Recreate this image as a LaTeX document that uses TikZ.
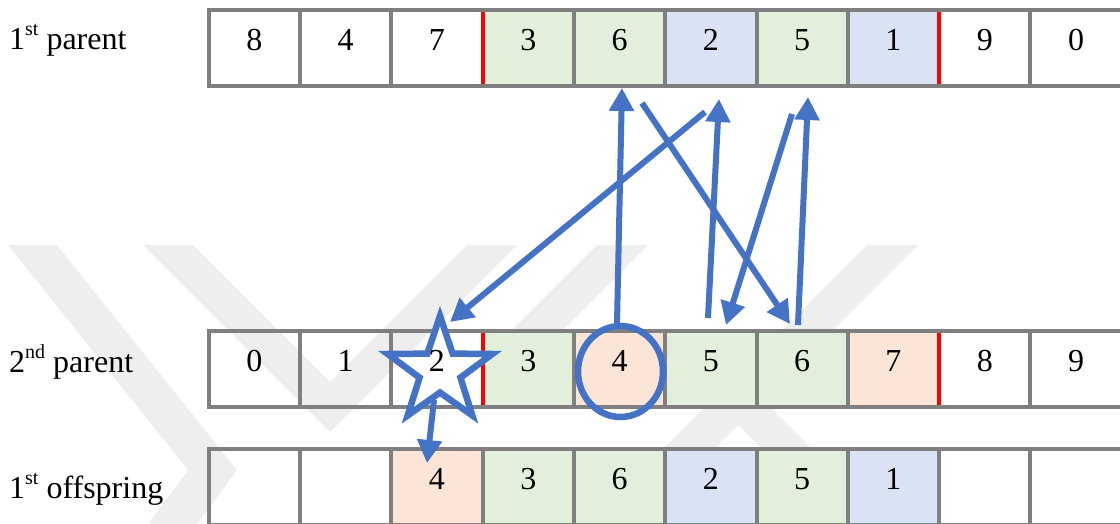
\documentclass[tikz,border=0pt]{standalone}
\usepackage{fontspec}
\setmainfont{Liberation Serif}
\usetikzlibrary{arrows.meta,calc,shapes.geometric}
\definecolor{cgreen}{HTML}{E2EFDA}
\definecolor{cblue}{HTML}{DAE3F3}
\definecolor{cpeach}{HTML}{FBE5D6}
\definecolor{cgrid}{HTML}{7F7F7F}
\definecolor{cline}{HTML}{4472C4}
\definecolor{cwm}{HTML}{EEEEEE}
\newcommand\supx[1]{\raisebox{14pt}{\fontsize{20}{20}\selectfont #1}}
\begin{document}
\begin{tikzpicture}[x=1pt,y=-1pt,
  cell/.style={draw=cgrid, line width=4pt, minimum width=91.3pt, minimum height=76pt,
    inner sep=0pt, outer sep=0pt, anchor=north west,
    font=\fontsize{32}{32}\selectfont, text height=21pt, text depth=16pt},
  lab/.style={anchor=base west, inner sep=0pt, font=\fontsize{32}{32}\selectfont},
  sepline/.style={draw=red, line width=4pt},
  arr/.style={draw=cline, line width=6pt, -{Triangle[width=24pt,length=23pt]}},
  ring/.style={draw=cline, line width=6.5pt, ellipse, inner sep=0pt, outer sep=0pt},
  wm/.style={fill=cwm}
]
\useasboundingbox (0,0) rectangle (1120,524);
% watermark
\fill[wm] (8,245) -- (57,245) -- (237,470) -- (197,524) -- (148,524) -- (188,470) -- cycle;
\fill[wm] (143,245) -- (193,245) -- (330,382) -- (467,245) -- (517,245) -- (330,432) -- cycle;
\fill[wm] (597,245) -- (648,245) -- (562,331) -- (511,331) -- cycle;
\fill[wm] (867,245) -- (918,245) -- (763,400) -- (887,524) -- (837,524) -- (738,425) -- (639,524) -- (588,524) -- cycle;
% labels
\node[lab] (l1) at (9,50) {1\supx{st} parent};
\node[lab] (l2) at (9,372) {2\supx{nd} parent};
\node[lab] (l3) at (9,498) {1\supx{st} offspring};
% rows
\foreach \v/\f [count=\i from 0] in {8/none,4/none,7/none,3/cgreen,6/cgreen,2/cblue,5/cgreen,1/cblue,9/none,0/none}
  \node[cell, fill=\f] (r1c\i) at ({208.7+91.3*\i},10) {\v};
\foreach \v/\f [count=\i from 0] in {0/none,1/none,\null/none,3/cgreen,4/cpeach,5/cgreen,6/cgreen,7/cpeach,8/none,9/none}
  \node[cell, fill=\f] (r2c\i) at ({208.7+91.3*\i},331) {\v};
\foreach \v/\f [count=\i from 0] in {\null/none,\null/none,4/cpeach,3/cgreen,6/cgreen,2/cblue,5/cgreen,1/cblue,\null/none,\null/none}
  \node[cell, fill=\f] (r3c\i) at ({208.7+91.3*\i},449) {\v};
% red separators
\draw[sepline] ($(r1c3.north west)+(0,2)$) -- ($(r1c3.south west)+(0,-2)$);
\draw[sepline] ($(r1c8.north west)+(0,2)$) -- ($(r1c8.south west)+(0,-2)$);
\draw[sepline] ($(r2c3.north west)+(0,2)$) -- ($(r2c3.south west)+(0,-2)$);
\draw[sepline] ($(r2c8.north west)+(0,2)$) -- ($(r2c8.south west)+(0,-2)$);
% circle
\node[ring, minimum width=85pt, minimum height=91pt] (circ) at (620.5,371.5) {};
% arrow end points
\coordinate (a1s) at (617,323); \coordinate (a1e) at (622,88);
\coordinate (a2s) at (642,103); \coordinate (a2e) at (790,324);
\coordinate (a3s) at (705,112); \coordinate (a3e) at (450,322);
\coordinate (a4s) at (708,318); \coordinate (a4e) at (719,99);
\coordinate (a5s) at (792,114); \coordinate (a5e) at (726,325);
\coordinate (a6s) at (798,325); \coordinate (a6e) at (808,97);
\coordinate (a7s) at (434,400); \coordinate (a7e) at (427,463);
\draw[arr] (a1s) -- (a1e);
\draw[arr] (a2s) -- (a2e);
\draw[arr] (a3s) -- (a3e);
\draw[arr] (a4s) -- (a4e);
\draw[arr] (a5s) -- (a5e);
\draw[arr] (a6s) -- (a6e);
% star
\draw[line width=6.5pt, draw=cline, fill=white, line join=miter] (440,316)
  \foreach \k in {0,...,3}{ -- ({440+21.5*cos(126+72*\k)},{371-21.5*sin(126+72*\k)}) -- ({440+55*cos(162+72*\k)},{371-55*sin(162+72*\k)}) }
  -- ({440+21.5*cos(414)},{371-21.5*sin(414)}) -- cycle;
\node[cell, draw=none] (t22) at (r2c2.north west) {2};
\draw[arr] (a7s) -- (a7e);
\end{tikzpicture}
\end{document}
